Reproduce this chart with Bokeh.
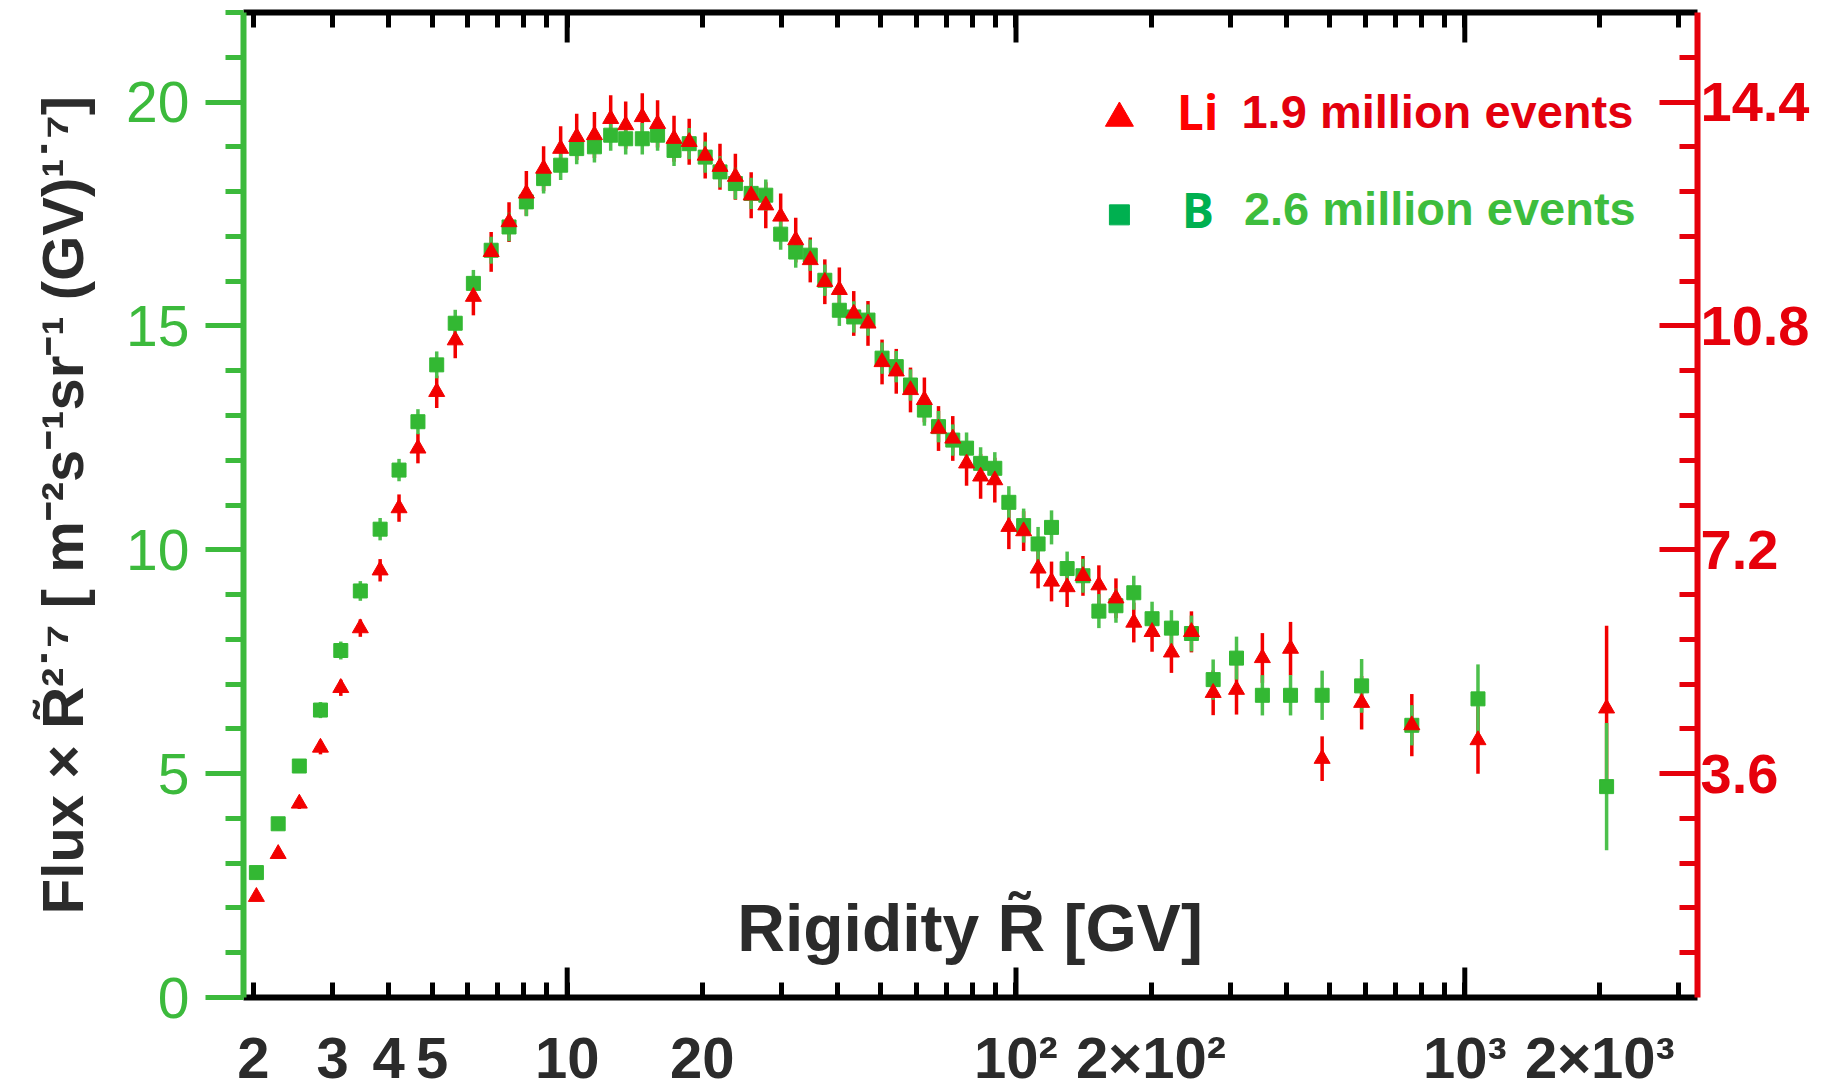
from bokeh.plotting import figure
from bokeh.models import (Range1d, LinearAxis, LogAxis, FixedTicker, Label,
                          ColumnDataSource, CustomJSTickFormatter)
from bokeh.embed import file_html
from bokeh.resources import INLINE

# ---------------- data ----------------
rigidity = [2.03, 2.27, 2.53, 2.82, 3.13, 3.46, 3.83, 4.22, 4.65, 5.12,
            5.63, 6.18, 6.77, 7.42, 8.11, 8.86, 9.67, 10.5, 11.5, 12.5,
            13.5, 14.7, 15.9, 17.3, 18.7, 20.3, 21.9, 23.7, 25.7, 27.7,
            29.9, 32.3, 34.8, 37.5, 40.4, 43.5, 46.8, 50.3, 54.1, 58.2,
            62.5, 67.2, 72.3, 77.6, 83.4, 89.7, 96.4, 104, 112, 120,
            130, 141, 153, 167, 183, 201, 222, 246, 275, 310,
            354, 409, 481, 589, 762, 1070, 2070]

# Boron flux x R^2.7 (left axis units)
boron_flux = [2.79, 3.88, 5.17, 6.42, 7.75, 9.08, 10.46, 11.78, 12.86, 14.13,
              15.06, 15.95, 16.69, 17.21, 17.77, 18.29, 18.59, 18.96, 19.00, 19.26,
              19.18, 19.18, 19.26, 18.92, 19.07, 18.77, 18.44, 18.18, 17.96, 17.92,
              17.05, 16.65, 16.58, 16.02, 15.35, 15.20, 15.13, 14.28, 14.09, 13.68,
              13.12, 12.75, 12.45, 12.27, 11.93, 11.82, 11.06, 10.54, 10.13, 10.50,
              9.58, 9.42, 8.63, 8.75, 9.04, 8.46, 8.25, 8.13, 7.10, 7.58,
              6.75, 6.75, 6.75, 6.96, 6.08, 6.67, 4.71]
boron_err = [0.15, 0.15, 0.15, 0.18, 0.20, 0.22, 0.25, 0.25, 0.28, 0.30,
             0.30, 0.30, 0.30, 0.32, 0.32, 0.33, 0.33, 0.35, 0.35, 0.35,
             0.35, 0.35, 0.35, 0.35, 0.35, 0.35, 0.35, 0.35, 0.35, 0.35,
             0.35, 0.35, 0.35, 0.35, 0.35, 0.35, 0.35, 0.35, 0.35, 0.35,
             0.35, 0.35, 0.35, 0.35, 0.36, 0.36, 0.36, 0.38, 0.38, 0.38,
             0.38, 0.38, 0.38, 0.38, 0.38, 0.38, 0.40, 0.40, 0.45, 0.48,
             0.45, 0.45, 0.55, 0.60, 0.45, 0.77, 1.42]

# Lithium flux x R^2.7 (right axis units)
lithium_flux = [1.62, 2.31, 3.12, 4.02, 4.98, 5.94, 6.87, 7.87, 8.83, 9.74,
                10.57, 11.27, 11.99, 12.47, 12.93, 13.33, 13.65, 13.84, 13.87, 14.13,
                14.03, 14.16, 14.05, 13.81, 13.76, 13.54, 13.36, 13.20, 12.90, 12.74,
                12.56, 12.18, 11.86, 11.51, 11.38, 11.00, 10.84, 10.22, 10.07, 9.77,
                9.61, 9.15, 8.99, 8.59, 8.38, 8.32, 7.57, 7.50, 6.90, 6.69,
                6.60, 6.78, 6.63, 6.42, 6.03, 5.88, 5.55, 5.88, 4.90, 4.95,
                5.46, 5.61, 3.84, 4.74, 4.38, 4.14, 4.65]
lithium_err = [0.07, 0.07, 0.09, 0.11, 0.13, 0.14, 0.18, 0.22, 0.24, 0.26,
               0.29, 0.30, 0.32, 0.32, 0.36, 0.36, 0.36, 0.37, 0.37, 0.38,
               0.38, 0.38, 0.38, 0.37, 0.37, 0.37, 0.37, 0.37, 0.37, 0.37,
               0.37, 0.36, 0.36, 0.36, 0.36, 0.36, 0.36, 0.36, 0.36, 0.36,
               0.36, 0.36, 0.36, 0.36, 0.36, 0.36, 0.36, 0.32, 0.32, 0.32,
               0.32, 0.32, 0.32, 0.32, 0.32, 0.32, 0.33, 0.33, 0.36, 0.40,
               0.40, 0.43, 0.36, 0.43, 0.50, 0.54, 1.33]

x_major_ticks = [2, 3, 4, 5, 10, 20, 100, 200, 1000, 2000]
x_major_labels = ["2", "3", "4", "5", "10", "20", "10²", "2×10²", "10³", "2×10³"]
x_decade_ticks = [10, 100, 1000]
x_minor_ticks = [6, 7, 8, 9, 30, 40, 50, 60, 70, 80, 90,
                 300, 400, 500, 600, 700, 800, 900, 3000]
left_ticks = [0, 5, 10, 15, 20]
left_minor_ticks = list(range(0, 23))
right_ticks = [3.6, 7.2, 10.8, 14.4]
RIGHT_SCALE = 0.72

# ---------------- layout / style ----------------
X_MIN, X_MAX = 1.9, 3300
Y_MAX = 22.0
FRAME_W, FRAME_H = 1454, 985

GREEN_AX = "#3cba3c"
GREEN_PT = "#33b833"
GREEN_LEG = "#00b050"
RED_AX = "#e6000b"
RED_PT = "#f20000"
RED_LEG = "#ff0000"
DARK = "#2b2b2b"

p = figure(frame_width=FRAME_W, frame_height=FRAME_H, x_axis_type="log",
           x_range=Range1d(X_MIN, X_MAX), y_range=Range1d(0, Y_MAX),
           x_axis_location=None, y_axis_location=None,
           output_backend="svg", toolbar_location=None,
           min_border_left=243, min_border_top=12, min_border_right=120,
           min_border_bottom=0)
p.extra_y_ranges = {"li": Range1d(0, Y_MAX * RIGHT_SCALE)}
p.outline_line_color = None
p.grid.visible = False
p.background_fill_color = "white"
p.border_fill_color = "white"

label_fmt = CustomJSTickFormatter(
    args=dict(tick_vals=x_major_ticks, tick_text=x_major_labels),
    code="const i = tick_vals.indexOf(tick); return i >= 0 ? tick_text[i] : '';")

xb = LogAxis(ticker=FixedTicker(ticks=x_major_ticks, minor_ticks=x_minor_ticks),
             formatter=label_fmt,
             axis_line_color="black", axis_line_width=6,
             major_tick_in=15, major_tick_out=0, minor_tick_in=15, minor_tick_out=0,
             major_tick_line_width=5, minor_tick_line_width=5,
             major_tick_line_color="black", minor_tick_line_color="black",
             major_label_text_font="Liberation Sans", major_label_text_font_size="58px",
             major_label_text_font_style="bold", major_label_text_color=DARK,
             major_label_standoff=27)
p.add_layout(xb, "below")

xt = LogAxis(ticker=FixedTicker(ticks=x_major_ticks, minor_ticks=x_minor_ticks),
             formatter=CustomJSTickFormatter(code="return '';"),
             axis_line_color="black", axis_line_width=6,
             major_tick_in=15, major_tick_out=0, minor_tick_in=15, minor_tick_out=0,
             major_tick_line_width=5, minor_tick_line_width=5,
             major_label_text_font_size="0px", major_label_standoff=0)
p.add_layout(xt, "above")

yl = LinearAxis(ticker=FixedTicker(ticks=left_ticks, minor_ticks=left_minor_ticks),
                axis_line_color=GREEN_AX, axis_line_width=6,
                major_tick_out=38, major_tick_in=0, minor_tick_out=18, minor_tick_in=0,
                major_tick_line_width=5, minor_tick_line_width=5,
                major_tick_line_color=GREEN_AX, minor_tick_line_color=GREEN_AX,
                major_label_text_font="Liberation Sans", major_label_text_font_size="57px",
                major_label_text_color=GREEN_AX, major_label_standoff=16,
                axis_label="Flux × R̃²˙⁷ [ m⁻²s⁻¹sr⁻¹ (GV)¹˙⁷]",
                axis_label_text_font="Liberation Sans", axis_label_text_font_size="58px",
                axis_label_text_font_style="bold", axis_label_text_color=DARK,
                axis_label_standoff=28)
p.add_layout(yl, "left")

yr = LinearAxis(y_range_name="li",
                ticker=FixedTicker(ticks=right_ticks,
                                   minor_ticks=[round(RIGHT_SCALE * k, 2) for k in range(1, 22)]),
                axis_line_color=RED_AX, axis_line_width=6,
                major_tick_in=38, major_tick_out=0, minor_tick_in=18, minor_tick_out=0,
                major_tick_line_width=5, minor_tick_line_width=5,
                major_tick_line_color=RED_AX, minor_tick_line_color=RED_AX,
                major_label_text_font="Liberation Sans", major_label_text_font_size="56px",
                major_label_text_font_style="bold", major_label_text_color=RED_AX,
                major_label_standoff=3)
p.add_layout(yr, "right")

# long decade ticks on bottom and top axes
long_tick = 30 * Y_MAX / FRAME_H
p.segment(x0=x_decade_ticks, x1=x_decade_ticks, y0=[0] * 3, y1=[long_tick] * 3,
          line_color="black", line_width=5)
p.segment(x0=x_decade_ticks, x1=x_decade_ticks, y0=[Y_MAX] * 3, y1=[Y_MAX - long_tick] * 3,
          line_color="black", line_width=5)

# ---------------- data glyphs ----------------
src_b = ColumnDataSource(dict(x=rigidity, y=boron_flux,
                              lo=[v - e for v, e in zip(boron_flux, boron_err)],
                              hi=[v + e for v, e in zip(boron_flux, boron_err)]))
src_li = ColumnDataSource(dict(x=rigidity, y=lithium_flux,
                               lo=[v - e for v, e in zip(lithium_flux, lithium_err)],
                               hi=[v + e for v, e in zip(lithium_flux, lithium_err)]))

p.segment(x0="x", x1="x", y0="lo", y1="hi", source=src_li, y_range_name="li",
          line_color=RED_PT, line_width=3.5)
p.segment(x0="x", x1="x", y0="lo", y1="hi", source=src_b,
          line_color="#4cc04c", line_width=3.5)
p.scatter("x", "y", source=src_b, marker="square", size=14,
          fill_color=GREEN_PT, line_color=GREEN_PT)
p.scatter("x", "y", source=src_li, y_range_name="li", marker="triangle", size=16,
          fill_color=RED_PT, line_color=RED_PT)

# ---------------- legend (custom) ----------------
LEG_X = 170
p.scatter(x=[LEG_X], y=[19.64], marker="triangle", size=28,
          fill_color=RED_LEG, line_color=RED_LEG)
p.scatter(x=[LEG_X], y=[17.48], marker="square", size=20,
          fill_color=GREEN_LEG, line_color=GREEN_LEG)

p.add_layout(Label(x=228, y=19.78, text="Li", text_font="Open Sans",
                   text_font_size="48px", text_font_style="bold",
                   text_color=RED_LEG, text_baseline="alphabetic"))
p.add_layout(Label(x=318, y=19.80, text="1.9 million events", text_font="Liberation Sans",
                   text_font_size="47px", text_font_style="bold",
                   text_color="#e3000e", text_baseline="alphabetic"))
p.add_layout(Label(x=234, y=17.59, text="B", text_font="Open Sans",
                   text_font_size="48px", text_font_style="bold",
                   text_color=GREEN_LEG, text_baseline="alphabetic"))
p.add_layout(Label(x=322, y=17.62, text="2.6 million events", text_font="Liberation Sans",
                   text_font_size="47px", text_font_style="bold",
                   text_color="#3dbd3d", text_baseline="alphabetic"))

# x-axis title placed inside the frame
p.add_layout(Label(x=79, y=1.56, text="Rigidity R̃ [GV]", text_font="Liberation Sans",
                   text_font_size="66px", text_font_style="bold", text_color=DARK,
                   text_align="center", text_baseline="alphabetic"))

open("out.html", "w").write(file_html(p, INLINE))
